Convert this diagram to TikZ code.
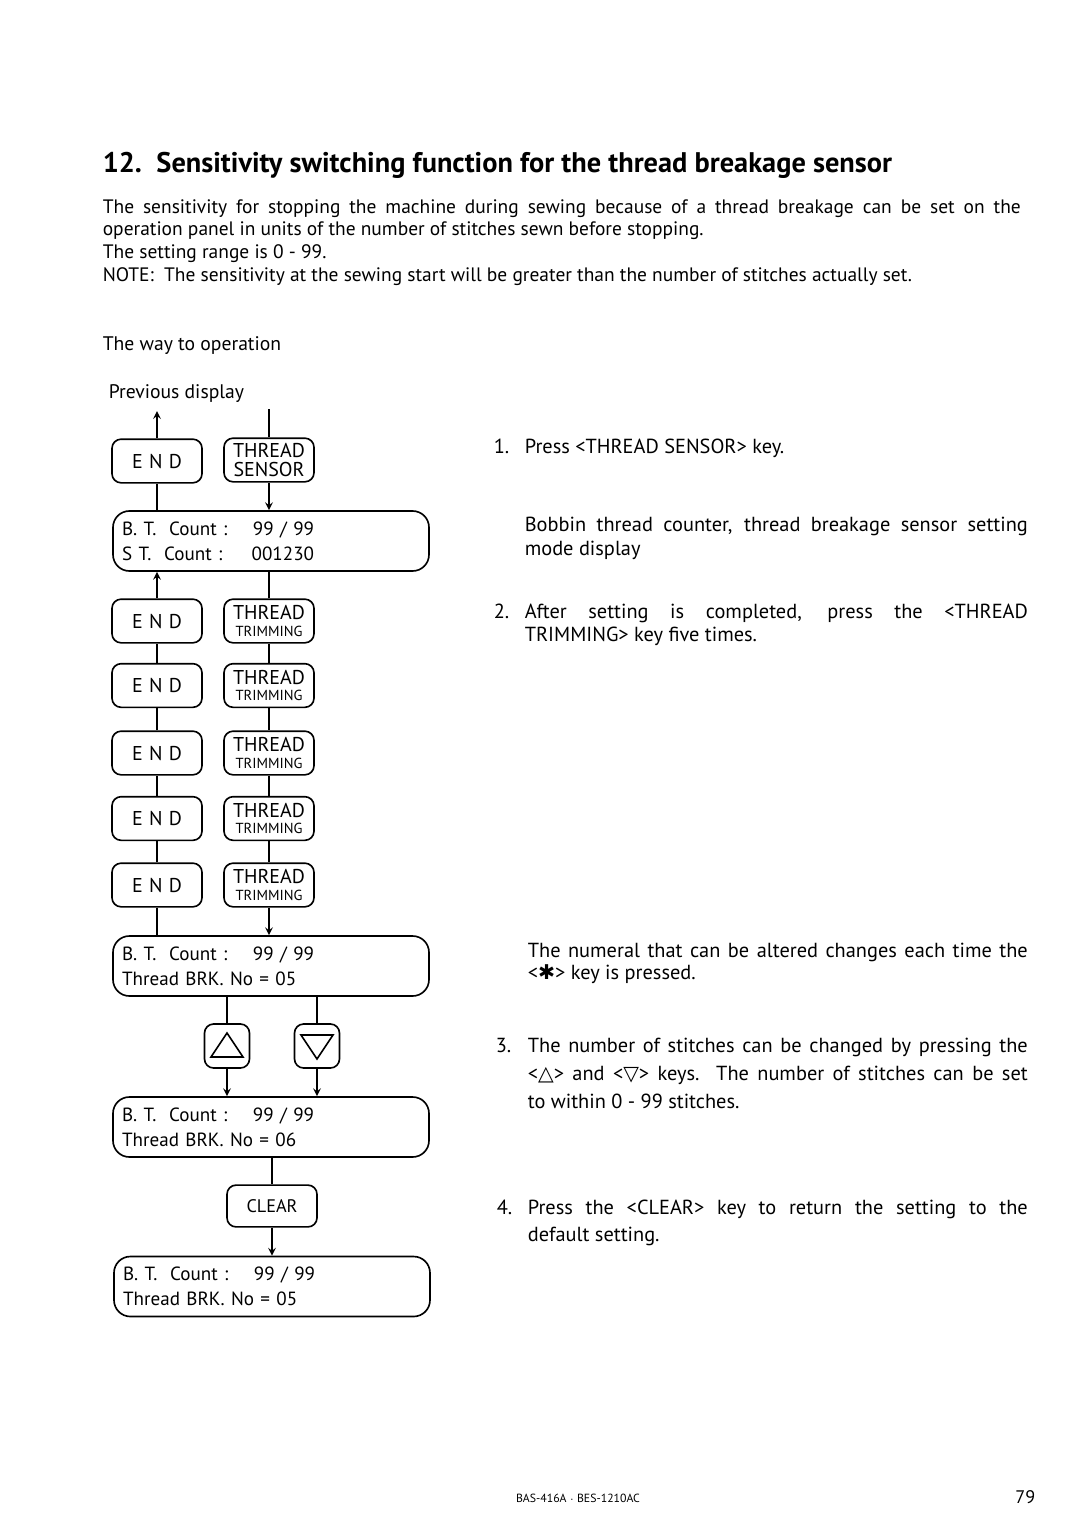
\documentclass[tikz,border=0pt]{standalone}
\usepackage{fontspec}
\setmainfont{PT Sans}
\newfontfamily\symfont{DejaVu Sans}
\usetikzlibrary{positioning}

\newcommand{\stopkey}{E\hspace{3.5pt}N\hspace{3.5pt}D}
\newcommand{\trimkey}{THREAD\\[-3pt]{\fontsize{8}{8}\selectfont TRIMMING}}
\newcommand{\dline}[2]{\makebox[105.6pt][l]{#1\hfill#2}}

\tikzset{
  key/.style={draw, rounded corners=5pt, minimum width=49.5pt, minimum height=24pt,
    inner sep=0pt, align=center, font=\fontsize{11}{12}\selectfont},
  disp/.style={draw, rounded corners=9pt, text width=163.8pt, inner xsep=5pt,
    inner ysep=0pt, minimum height=33pt, align=left, font=\fontsize{10.5}{13.75}\selectfont},
  arrkey/.style={draw, rounded corners=5pt, minimum width=24.75pt, minimum height=24.2pt,
    inner sep=0pt},
  txt/.style={anchor=base west, inner sep=0pt, align=justify, font=\fontsize{11.2}{13.2}\selectfont},
}

\begin{document}
\begin{tikzpicture}[x=0.55pt, y=-0.55pt, line width=0.9pt, >=stealth]
  \useasboundingbox (0,0) rectangle (1080,1516);

  % heading and introduction
  \node[txt, text width=560pt, font=\fontsize{15.6}{18}\selectfont\bfseries] (title) at (102,172)
    {12.\hspace{8pt}Sensitivity switching function for the thread breakage sensor};
  \node[txt, text width=540pt, font=\fontsize{10.7}{12.5}\selectfont] (intro) at (102,213)
    {\makebox[504.9pt][s]{The sensitivity for stopping the machine during sewing because of a thread breakage can be set on the}\\
     operation panel in units of the number of stitches sewn before stopping.\\
     The setting range is 0 - 99.\\
     NOTE:\ \ The sensitivity at the sewing start will be greater than the number of stitches actually set.};
  \node[txt, text width=200pt, font=\fontsize{10.8}{13}\selectfont] (way) at (102,350) {The way to operation};
  \node[txt, text width=200pt, font=\fontsize{10.8}{13}\selectfont] (prevtxt) at (108,398) {Previous display};

  % keys and displays
  \node[key] (end1) at (157,461) {\stopkey};
  \node[key] (sens) at (269,460) {THREAD\\[-2pt]SENSOR};
  \node[disp] (disp1) at (271,541)
    {\dline{B. T.\ \ Count :}{99 / 99}\\ \dline{S T.\ \ Count :}{001230}};

  \node[key] (end2) at (157,621) {\stopkey};
  \node[key] (tt1) at (269,621) {\trimkey};
  \node[key] (end3) at (157,685.5) {\stopkey};
  \node[key] (tt2) at (269,685.5) {\trimkey};
  \node[key] (end4) at (157,753) {\stopkey};
  \node[key] (tt3) at (269,753) {\trimkey};
  \node[key] (end5) at (157,818.5) {\stopkey};
  \node[key] (tt4) at (269,818.5) {\trimkey};
  \node[key] (end6) at (157,885) {\stopkey};
  \node[key] (tt5) at (269,885) {\trimkey};

  \node[disp] (disp2) at (271,966)
    {\dline{B. T.\ \ Count :}{99 / 99}\\ Thread BRK. No = 05};
  \node[arrkey] (up) at (227,1046) {};
  \node[arrkey] (dn) at (317,1046) {};
  \draw ([shift={(-16,11)}]up.center) -- ([shift={(16,11)}]up.center)
    -- ([shift={(0,-13)}]up.center) -- cycle;
  \draw ([shift={(-16,-11)}]dn.center) -- ([shift={(16,-11)}]dn.center)
    -- ([shift={(0,13)}]dn.center) -- cycle;
  \node[disp] (disp3) at (271,1127)
    {\dline{B. T.\ \ Count :}{99 / 99}\\ Thread BRK. No = 06};
  \node[key, font=\fontsize{10}{12}\selectfont, minimum height=23pt] (clr) at (272,1206) {CLEAR};
  \node[disp] (disp4) at (272,1286.5)
    {\dline{B. T.\ \ Count :}{99 / 99}\\ Thread BRK. No = 05};

  % connectors
  \coordinate (prev) at (157,411);
  \coordinate (sensin) at (269,409);
  \draw[->] (end1) -- (prev);
  \draw (sensin) -- (sens);
  \draw[->] (sens) -- (sens |- disp1.north);
  \draw (end1) -- (end1 |- disp1.north);
  \draw[->] (end2) -- (end2 |- disp1.south);
  \draw (tt1) -- (tt1 |- disp1.south);
  \draw (end3) -- (end2);
  \draw (end4) -- (end3);
  \draw (end5) -- (end4);
  \draw (end6) -- (end5);
  \draw (tt1) -- (tt2);
  \draw (tt2) -- (tt3);
  \draw (tt3) -- (tt4);
  \draw (tt4) -- (tt5);
  \draw (end6) -- (end6 |- disp2.north);
  \draw[->] (tt5) -- (tt5 |- disp2.north);
  \draw (up |- disp2.south) -- (up);
  \draw (dn |- disp2.south) -- (dn);
  \draw[->] (up) -- (up |- disp3.north);
  \draw[->] (dn) -- (dn |- disp3.north);
  \draw (clr |- disp3.south) -- (clr);
  \draw[->] (clr) -- (clr |- disp4.north);

  % steps
  \node[txt] (n1) at (493,453) {1.};
  \node[txt, text width=290pt] (s1) at (524,453) {Press <THREAD SENSOR> key.};
  \node[txt, text width=290pt] (s1b) at (524,531)
    {\makebox[276.7pt][s]{Bobbin thread counter, thread breakage sensor setting}\\ mode display};
  \node[txt] (n2) at (493,618) {2.};
  \node[txt, text width=290pt, font=\fontsize{11.2}{12.65}\selectfont] (s2) at (524,618)
    {\makebox[276.7pt][s]{After setting is completed, press the <THREAD}\\ TRIMMING> key five times.};
  \node[txt, text width=290pt, font=\fontsize{11.2}{12.1}\selectfont] (s2b) at (527,957)
    {\makebox[275pt][s]{The numeral that can be altered changes each time the}\\ <{\symfont ✱}> key is pressed.};
  \node[txt] (n3) at (495,1052) {3.};
  \node[txt, text width=290pt, font=\fontsize{11.2}{15.4}\selectfont] (s3) at (527,1052)
    {\makebox[275pt][s]{The number of stitches can be changed by pressing the}\\
     \makebox[275pt][s]{<{\symfont △}> and <{\symfont ▽}> keys.\ \ The number of stitches can be set}\\
     to within 0 - 99 stitches.};
  \node[txt] (n4) at (496,1214) {4.};
  \node[txt, text width=290pt, font=\fontsize{11.2}{14.85}\selectfont] (s4) at (527,1214)
    {\makebox[275pt][s]{Press the <CLEAR> key to return the setting to the}\\ default setting.};

  % footer
  \node[anchor=base, inner sep=0pt, font=\fontsize{6.5}{8}\selectfont] (model) at (578,1502)
    {BAS-416A $\cdot$ BES-1210AC};
  \node[anchor=base east, inner sep=0pt, font=\fontsize{10}{12}\selectfont] (page) at (1036,1503) {79};
\end{tikzpicture}
\end{document}
